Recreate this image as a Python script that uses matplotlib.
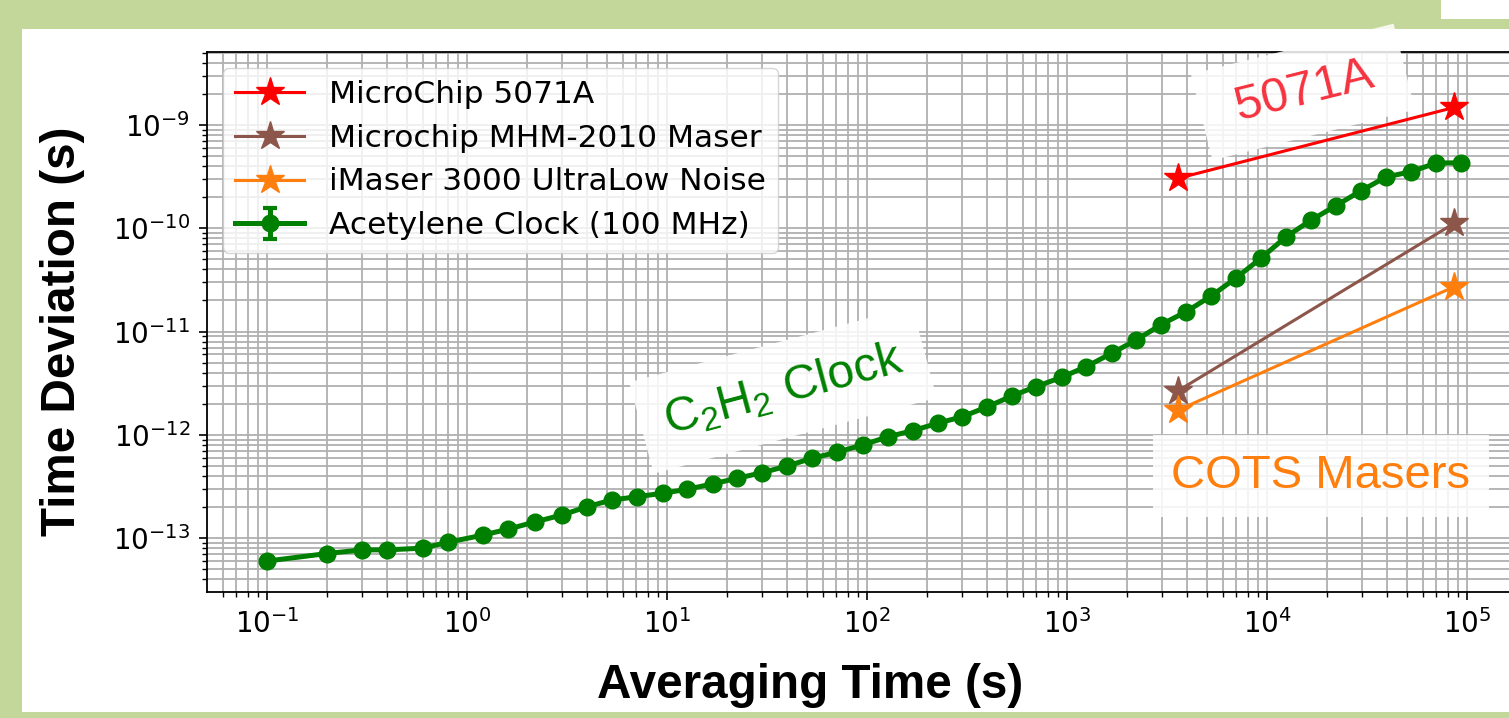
import matplotlib
matplotlib.use('Agg')
import matplotlib.pyplot as plt
from matplotlib.patches import Rectangle

# ---------------- data ----------------
tau_c2h2 = [0.1, 0.2, 0.3, 0.4, 0.6, 0.8, 1.2, 1.6, 2.2, 3.0, 4.0,
            5.3, 7.1, 9.5, 12.6, 16.9, 22.5, 30, 40, 53, 71, 95,
            128, 170, 227, 300, 400, 530, 700, 940, 1250, 1670, 2220,
            2960, 3950, 5260, 7010, 9350, 12470, 16630, 22170, 29560,
            39410, 52550, 70070, 93420]
tdev_c2h2 = [6.0e-14, 7.1e-14, 7.7e-14, 7.7e-14, 8.0e-14, 9.1e-14,
             1.07e-13, 1.22e-13, 1.44e-13, 1.68e-13, 2.02e-13,
             2.34e-13, 2.52e-13, 2.72e-13, 2.97e-13, 3.35e-13, 3.80e-13,
             4.31e-13, 5.0e-13, 5.93e-13, 6.79e-13, 7.98e-13,
             9.61e-13, 1.10e-12, 1.30e-12, 1.50e-12, 1.87e-12, 2.38e-12,
             2.93e-12, 3.61e-12, 4.58e-12, 6.16e-12, 8.28e-12,
             1.17e-11, 1.56e-11, 2.21e-11, 3.31e-11, 5.15e-11, 8.29e-11,
             1.20e-10, 1.66e-10, 2.31e-10, 3.14e-10, 3.53e-10, 4.28e-10,
             4.31e-10]

tau_ref = [3600, 86400]
tdev_5071a = [3.05e-10, 1.48e-9]
tdev_mhm2010 = [2.68e-12, 1.12e-10]
tdev_imaser = [1.74e-12, 2.72e-11]

labels = ["MicroChip 5071A", "Microchip MHM-2010 Maser",
          "iMaser 3000 UltraLow Noise", "Acetylene Clock (100 MHz)"]

# ---------------- figure ----------------
W, H = 1509, 718
fig = plt.figure(figsize=(W / 100, H / 100), dpi=100, facecolor='#c4d79b')

# white slide panel
fig.add_artist(Rectangle((22 / W, 1 - 712 / H), 1.0, (712 - 29) / H,
                         transform=fig.transFigure, fc='white', ec='none',
                         zorder=-10))
fig.add_artist(Rectangle((1441 / W, 1 - 19 / H), 1.0, 0.1,
                         transform=fig.transFigure, fc='white', ec='none',
                         zorder=-10))

ax = fig.add_axes([207 / W, 1 - 592 / H, (1513 - 207) / W, (592 - 52) / H])
ax.set_facecolor('white')

ax.plot(tau_ref, tdev_5071a, '-*', color='red', lw=2.2, ms=21, label=labels[0])
ax.plot(tau_ref, tdev_mhm2010, '-*', color='#8c564b', lw=2.2, ms=21, label=labels[1])
ax.plot(tau_ref, tdev_imaser, '-*', color='#ff7f0e', lw=2.2, ms=21, label=labels[2])
ax.errorbar(tau_c2h2, tdev_c2h2, yerr=0, fmt='-o', color='green', lw=3.6,
            ms=12, elinewidth=3.6, capsize=5, capthick=3, label=labels[3])

ax.set_xscale('log')
ax.set_yscale('log')
ax.set_xlim(10 ** -1.3, 10 ** 5.23)
ax.set_ylim(3.01e-14, 5.09e-9)

ax.grid(True, which='both', color='#b0b0b0', lw=1.3)
ax.set_axisbelow(True)
ax.tick_params(which='major', labelsize=20, length=6, width=1.2, pad=6)
ax.tick_params(which='minor', length=3.6, width=1.0)
for s in ax.spines.values():
    s.set_linewidth(1.3)

ax.legend(loc='upper left', fontsize=22.5, labelspacing=0.47,
          handlelength=2.2, borderpad=0.4)

# axis titles (slide overlay style)
fig.text(63 / W, 1 - 331 / H, 'Time Deviation (s)', rotation=90,
         ha='center', va='center', fontsize=34.3, fontweight='bold',
         family='Liberation Sans')
fig.text(810 / W, 1 - 698 / H, 'Averaging Time (s)', ha='center',
         va='baseline', fontsize=34.3, fontweight='bold',
         family='Liberation Sans')

# annotations
fig.text(1303 / W, 1 - 92 / H, ' 5071A ', rotation=14, ha='center',
         va='center', fontsize=35, color='#f5333f', family='Liberation Sans',
         bbox=dict(boxstyle='square,pad=0.45', fc='white', ec='none',
                   alpha=0.85), zorder=20)
fig.text(783 / W, 1 - 390 / H, r'C$\mathregular{_2}$H$\mathregular{_2}$ Clock',
         rotation=15, ha='center', va='center', fontsize=34.5,
         color='green', family='Liberation Sans',
         bbox=dict(boxstyle='square,pad=0.5', fc='white', ec='none',
                   alpha=0.85), zorder=20)
fig.text(1321 / W, 1 - 488 / H, 'COTS Masers', ha='center', va='baseline',
         fontsize=34, color='#ff7f0e', family='Liberation Sans',
         bbox=dict(boxstyle='square,pad=0.4', fc='white', ec='none',
                   alpha=0.85), zorder=20)

fig.savefig('out.png', dpi=100, facecolor=fig.get_facecolor())
